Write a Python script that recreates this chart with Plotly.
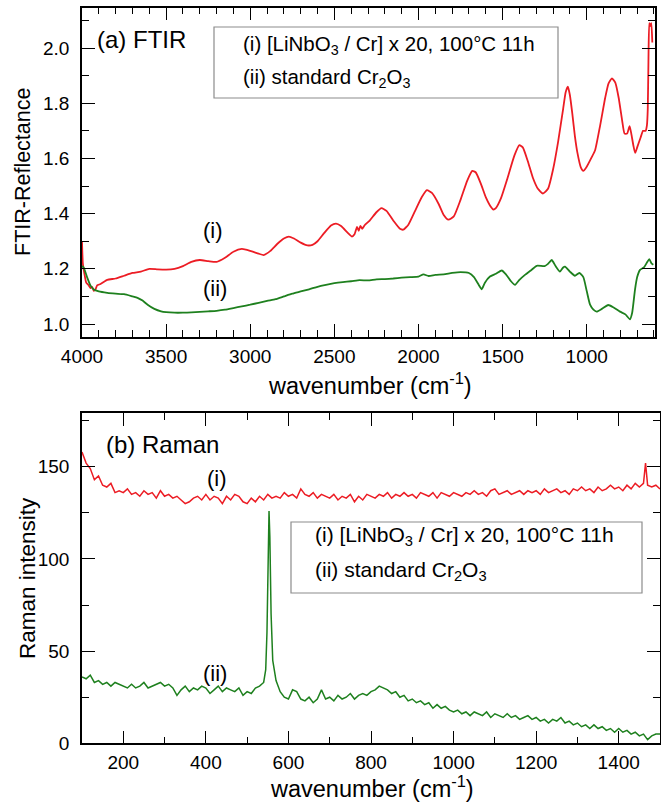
import plotly.graph_objects as go

# ---------------- DATA ----------------
# (a) FTIR, curve (i) [LiNbO3 / Cr] x 20
ftir_i_wn = [4000, 3995, 3985, 3975, 3960, 3950, 3940, 3930, 3920, 3910, 3890, 3850, 3800, 3750, 3700,
             3650, 3600, 3550, 3500, 3450, 3400, 3350, 3300, 3250, 3200, 3150, 3100, 3050, 3000, 2950,
             2920, 2880, 2840, 2800, 2770, 2740, 2700, 2660, 2630, 2600, 2560, 2520, 2490, 2460, 2420,
             2395, 2380, 2365, 2355, 2345, 2335, 2320, 2290, 2250, 2220, 2190, 2150, 2110, 2090, 2060,
             2020, 1980, 1950, 1920, 1880, 1850, 1822, 1790, 1750, 1710, 1680, 1660, 1630, 1600, 1570,
             1555, 1540, 1510, 1470, 1430, 1400, 1380, 1350, 1320, 1290, 1260, 1230, 1200, 1170, 1140,
             1125, 1112, 1100, 1085, 1070, 1055, 1035, 1020, 1000, 970, 950, 920, 890, 870, 850,
             830, 810, 790, 775, 760, 745, 735, 722, 712, 700, 680, 665, 650, 642, 637,
             633, 628, 622, 616, 610]
ftir_i_val = [1.30, 1.22, 1.18, 1.15, 1.14, 1.13, 1.135, 1.12, 1.125, 1.14, 1.145, 1.16, 1.165, 1.175, 1.185,
              1.19, 1.20, 1.198, 1.197, 1.20, 1.21, 1.225, 1.232, 1.228, 1.225, 1.24, 1.262, 1.272, 1.265, 1.255,
              1.25, 1.265, 1.29, 1.31, 1.317, 1.31, 1.295, 1.285, 1.287, 1.30, 1.33, 1.357, 1.364, 1.355, 1.33,
              1.317, 1.325, 1.352, 1.338, 1.356, 1.345, 1.358, 1.375, 1.405, 1.42, 1.41, 1.375, 1.345, 1.342, 1.36,
              1.41, 1.46, 1.485, 1.475, 1.435, 1.395, 1.378, 1.39, 1.45, 1.52, 1.555, 1.55, 1.51, 1.46, 1.425,
              1.415, 1.42, 1.455, 1.53, 1.61, 1.648, 1.64, 1.59, 1.53, 1.49, 1.473, 1.49, 1.56, 1.66, 1.78,
              1.84, 1.86, 1.83, 1.76, 1.68, 1.62, 1.568, 1.555, 1.57, 1.605, 1.63, 1.72, 1.82, 1.872, 1.89,
              1.875, 1.82, 1.74, 1.69, 1.69, 1.717, 1.69, 1.645, 1.62, 1.64, 1.675, 1.70, 1.70, 1.72, 1.78,
              1.95, 2.09, 2.08, 2.09, 2.02]

# (a) FTIR, curve (ii) standard Cr2O3
ftir_ii_wn = [4000, 3990, 3970, 3950, 3930, 3900, 3850, 3800, 3750, 3700, 3670, 3640, 3610, 3570, 3530,
              3500, 3450, 3400, 3350, 3300, 3250, 3200, 3150, 3100, 3050, 3000, 2950, 2900, 2850, 2800,
              2750, 2700, 2650, 2600, 2550, 2500, 2450, 2400, 2350, 2300, 2250, 2200, 2150, 2100, 2050,
              2000, 1970, 1940, 1900, 1850, 1800, 1750, 1700, 1670, 1640, 1624, 1605, 1575, 1540, 1505,
              1480, 1450, 1426, 1400, 1367, 1330, 1297, 1250, 1230, 1208, 1185, 1159, 1140, 1129, 1100,
              1070, 1044, 1020, 1000, 980, 960, 941, 910, 872, 840, 802, 770, 743, 730, 713,
              700, 683, 660, 640, 628, 615, 604]
ftir_ii_val = [1.21, 1.205, 1.17, 1.14, 1.125, 1.118, 1.113, 1.11, 1.108, 1.10, 1.095, 1.085, 1.07, 1.055, 1.046,
               1.043, 1.041, 1.041, 1.042, 1.044, 1.046, 1.048, 1.052, 1.058, 1.064, 1.07, 1.077, 1.084, 1.09, 1.10,
               1.11, 1.118, 1.126, 1.135, 1.142, 1.148, 1.152, 1.155, 1.159, 1.158, 1.162, 1.163, 1.165, 1.168, 1.17,
               1.172, 1.18, 1.174, 1.178, 1.18, 1.185, 1.188, 1.185, 1.17, 1.14, 1.126, 1.15, 1.172, 1.182, 1.194,
               1.18, 1.155, 1.142, 1.16, 1.178, 1.195, 1.211, 1.21, 1.218, 1.232, 1.21, 1.19, 1.205, 1.208, 1.19,
               1.175, 1.185, 1.17, 1.12, 1.07, 1.052, 1.045, 1.055, 1.069, 1.06, 1.045, 1.035, 1.017, 1.04, 1.124,
               1.17, 1.196, 1.205, 1.225, 1.235, 1.22, 1.215]

# (b) Raman, curve (i)
raman_i_wn = [100, 110, 120, 130, 140, 150, 160, 170, 180, 190, 200, 210, 220, 230, 240, 250, 260, 270, 280, 290,
              300, 310, 320, 330, 340, 350, 360, 370, 380, 390, 400, 410, 420, 430, 440, 450, 460, 470, 480, 490,
              500, 510, 520, 530, 540, 550, 560, 570, 580, 590, 600, 610, 620, 630, 640, 650, 660, 670, 680, 690,
              700, 710, 720, 730, 740, 750, 760, 770, 780, 790, 800, 810, 820, 830, 840, 850, 860, 870, 880, 890,
              900, 910, 920, 930, 940, 950, 960, 970, 980, 990, 1000, 1010, 1020, 1030, 1040, 1050, 1060, 1070, 1080, 1090,
              1100, 1110, 1120, 1130, 1140, 1150, 1160, 1170, 1180, 1190, 1200, 1210, 1220, 1230, 1240, 1250, 1260, 1270, 1280, 1290,
              1300, 1310, 1320, 1330, 1340, 1350, 1360, 1370, 1380, 1390, 1400, 1410, 1420, 1430, 1440, 1450, 1460, 1465, 1470, 1480,
              1490, 1500]
raman_i_val = [158, 152, 149, 143, 145, 140, 139, 141, 136, 137, 136, 138, 135, 136, 134, 137, 135, 136, 133, 137,
               134, 135, 133, 134, 132, 130, 131, 133, 134, 132, 135, 132, 134, 133, 130, 134, 132, 135, 134, 131,
               130, 133, 131, 134, 132, 135, 133, 134, 133, 136, 134, 135, 133, 138, 135, 134, 136, 133, 135, 134,
               133, 135, 132, 134, 133, 135, 131, 134, 132, 135, 134, 133, 135, 134, 136, 133, 135, 134, 136, 134,
               135, 133, 136, 135, 134, 136, 133, 136, 135, 134, 136, 135, 134, 136, 135, 137, 135, 136, 134, 137,
               138, 135, 136, 137, 135, 136, 137, 135, 137, 136, 137, 135, 138, 136, 137, 138, 136, 137, 135, 138,
               137, 139, 137, 138, 136, 139, 137, 138, 140, 138, 139, 137, 140, 138, 141, 139, 141, 152, 140, 139,
               140, 138]

# (b) Raman, curve (ii)
raman_ii_wn = [100, 110, 120, 130, 140, 150, 160, 170, 180, 190, 200, 210, 220, 230, 240, 250, 260, 270, 280, 290,
               300, 310, 320, 330, 340, 350, 360, 370, 380, 390, 400, 410, 420, 430, 440, 450, 460, 470, 480, 490,
               500, 510, 520, 530, 540, 545, 548, 551, 553, 555, 558, 562, 566, 570, 580, 590, 600, 610, 620, 630,
               640, 650, 660, 670, 680, 690, 700, 710, 720, 730, 740, 750, 760, 770, 780, 790, 800, 810, 820, 830,
               840, 850, 860, 870, 880, 890, 900, 910, 920, 930, 940, 950, 960, 970, 980, 990, 1000, 1010, 1020, 1030,
               1040, 1050, 1060, 1070, 1080, 1090, 1100, 1110, 1120, 1130, 1140, 1150, 1160, 1170, 1180, 1190, 1200, 1210, 1220, 1230,
               1240, 1250, 1260, 1270, 1280, 1290, 1300, 1310, 1320, 1330, 1340, 1350, 1360, 1370, 1380, 1390, 1400, 1410, 1420, 1430,
               1440, 1450, 1460, 1470, 1480, 1490, 1500]
raman_ii_val = [36, 35, 37, 33, 34, 32, 33, 31, 33, 32, 31, 30, 32, 30, 31, 33, 30, 31, 32, 33,
                31, 32, 30, 26, 29, 31, 28, 30, 29, 31, 30, 27, 29, 31, 28, 30, 29, 28, 30, 26,
                28, 27, 30, 31, 33, 40, 60, 110, 126, 112, 70, 45, 38, 34, 28, 25, 24, 29, 28, 24,
                23, 25, 22, 24, 29, 24, 25, 23, 26, 24, 25, 27, 24, 26, 27, 26, 28, 29, 31, 30,
                29, 27, 28, 25, 26, 23, 24, 22, 23, 21, 22, 19, 21, 19, 20, 18, 17, 18, 16, 17,
                15, 17, 16, 15, 17, 14, 16, 15, 14, 16, 14, 15, 13, 14, 15, 13, 14, 12, 13, 11,
                13, 12, 14, 11, 12, 10, 11, 9, 10, 8, 10, 8, 9, 7, 8, 6, 8, 6, 7, 5,
                6, 4, 5, 2, 4, 5, 5]

# ---------------- STYLE / LAYOUT ----------------
W, H = 661, 811
RED = "rgb(236,28,36)"
GREEN = "rgb(30,128,30)"
FONT = "Liberation Sans, Arial, sans-serif"


def px(x):
    return x / W


def py(y):
    return 1 - y / H


fig = go.Figure()
fig.add_trace(go.Scatter(x=ftir_i_wn, y=ftir_i_val, mode="lines",
                         line=dict(color=RED, width=1.8, shape="spline", smoothing=0.5),
                         xaxis="x", yaxis="y", showlegend=False))
fig.add_trace(go.Scatter(x=ftir_ii_wn, y=ftir_ii_val, mode="lines",
                         line=dict(color=GREEN, width=1.8, shape="spline", smoothing=0.5),
                         xaxis="x", yaxis="y", showlegend=False))
fig.add_trace(go.Scatter(x=raman_i_wn, y=raman_i_val, mode="lines", line=dict(color=RED, width=1.5),
                         xaxis="x2", yaxis="y2", showlegend=False))
fig.add_trace(go.Scatter(x=raman_ii_wn, y=raman_ii_val, mode="lines", line=dict(color=GREEN, width=1.5),
                         xaxis="x2", yaxis="y2", showlegend=False))

axis_common = dict(showline=True, linecolor="black", linewidth=1.6, mirror="allticks",
                   ticks="inside", ticklen=13, tickwidth=1.3, tickcolor="black",
                   showgrid=False, zeroline=False, automargin=False,
                   tickfont=dict(family=FONT, size=19, color="black"))

fig.update_layout(
    width=W, height=H,
    margin=dict(l=0, r=0, t=0, b=0),
    paper_bgcolor="white", plot_bgcolor="white",
    xaxis=dict(domain=[px(82), px(655)], range=[4000, 594], anchor="y",
               tick0=0, dtick=500, ticklabelstandoff=1,
               minor=dict(ticks="inside", ticklen=7, dtick=100, tickcolor="black", tickwidth=1.3),
               **axis_common),
    yaxis=dict(domain=[py(337), py(7.5)], range=[0.953, 2.147], anchor="x",
               tick0=1.0, dtick=0.2, tickformat=".1f", ticklabelstandoff=7,
               minor=dict(ticks="inside", ticklen=7, dtick=0.1, tickcolor="black", tickwidth=1.3),
               **axis_common),
    xaxis2=dict(domain=[px(82), px(660)], range=[100, 1500], anchor="y2",
                tick0=0, dtick=200, ticklabelstandoff=1,
                minor=dict(ticks="inside", ticklen=7, dtick=100, tickcolor="black", tickwidth=1.3),
                **axis_common),
    yaxis2=dict(domain=[py(743.3), py(413.3)], range=[0, 179], anchor="x2",
                tick0=0, dtick=50, ticklabelstandoff=7,
                minor=dict(ticks="inside", ticklen=7, dtick=25, tickcolor="black", tickwidth=1.3),
                **axis_common),
)

# legend boxes
fig.add_shape(type="rect", xref="paper", yref="paper", x0=px(214), x1=px(558), y0=py(98), y1=py(27),
              line=dict(color="rgb(140,140,140)", width=1.2), fillcolor="white", layer="above")
fig.add_shape(type="rect", xref="paper", yref="paper", x0=px(291), x1=px(642), y0=py(593), y1=py(522),
              line=dict(color="rgb(140,140,140)", width=1.2), fillcolor="white", layer="above")


def txt(x, y, s, size, xanchor="left", angle=0):
    fig.add_annotation(x=px(x), y=py(y), xref="paper", yref="paper", text=s, showarrow=False,
                       xanchor=xanchor, yanchor="middle", textangle=angle,
                       font=dict(family=FONT, size=size, color="black"))


leg1 = "(i) [LiNbO<sub>3</sub> / Cr] x 20, 100°C 11h"
leg2 = "(ii) standard Cr<sub>2</sub>O<sub>3</sub>"

# panel (a)
txt(95, 39, "(a) FTIR", 24)
txt(241, 45, leg1, 20.5)
txt(241, 78, leg2, 20.5)
txt(213, 231, "(i)", 22, xanchor="center")
txt(215, 289, "(ii)", 22, xanchor="center")
txt(370, 384, "wavenumber (cm<sup>-1</sup>)", 23.5, xanchor="center")
txt(23, 172, "FTIR-Reflectance", 21.5, xanchor="center", angle=-90)

# panel (b)
txt(104, 444, "(b) Raman", 24)
txt(313, 536, leg1, 21)
txt(313, 571, leg2, 21)
txt(217, 479, "(i)", 22, xanchor="center")
txt(215, 673, "(ii)", 22, xanchor="center")
txt(372, 787, "wavenumber (cm<sup>-1</sup>)", 23.5, xanchor="center")
txt(27, 578, "Raman intensity", 22.5, xanchor="center", angle=-90)

fig.write_html("out.html")
